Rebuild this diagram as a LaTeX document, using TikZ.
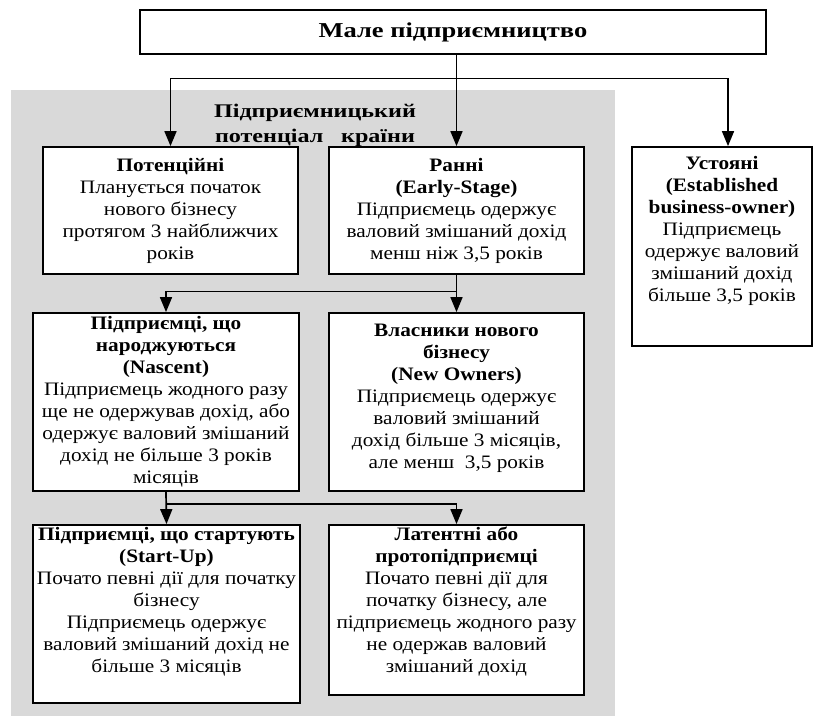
\documentclass[tikz,border=0pt]{standalone}
\usepackage{fontspec}
\setmainfont{Liberation Serif}[FakeStretch=1.12]
\newfontfamily\headfont{Liberation Serif}[FakeStretch=1.25]
\usetikzlibrary{arrows.meta,calc}
\definecolor{panel}{RGB}{217,217,217}
\begin{document}
\begin{tikzpicture}[x=1pt,y=-1pt,
  box/.style={draw=black,line width=1.8pt,fill=white,inner sep=0pt},
  txt/.style={anchor=north,align=center,inner sep=0pt,font=\fontsize{19}{22}\selectfont,execute at begin node={\strut}},
  arr/.style={line width=1.7pt,-{Triangle[width=12pt,length=15pt]}}]
\useasboundingbox (0,0) rectangle (813,718);
\fill[panel] (11,90) rectangle (615,716);
% boxes
\node[box,minimum width=626pt,minimum height=44pt] (top) at (453,32) {};
\node[box,minimum width=255pt,minimum height=127pt] (pot) at (170.5,210.5) {};
\node[box,minimum width=255pt,minimum height=127pt] (ran) at (456.5,210.5) {};
\node[box,minimum width=180pt,minimum height=199pt] (ust) at (722,246.5) {};
\node[box,minimum width=266pt,minimum height=178pt] (nas) at (166,402) {};
\node[box,minimum width=255pt,minimum height=178pt] (own) at (456.5,402) {};
\node[box,minimum width=267pt,minimum height=178pt] (sta) at (166.5,614) {};
\node[box,minimum width=255pt,minimum height=170pt] (lat) at (456.5,610) {};
% texts
\node[inner sep=0pt,font=\headfont\fontsize{21.2}{24}\selectfont\bfseries] (topT) at (top.center) {Мале підприємництво};
\node[anchor=north,align=center,inner sep=0pt,font=\headfont\fontsize{19.3}{25}\selectfont\bfseries] (panT) at (315,103.5) {Підприємницький\\\hbox to 200pt{потенціал\hfill країни}};
\node[txt] (potT) at ($(pot.north)+(0,11.6)$) {\textbf{Потенційні}\\Планується початок\\нового бізнесу\\протягом 3 найближчих\\років};
\node[txt] (ranT) at ($(ran.north)+(0,11.6)$) {\textbf{Ранні}\\\textbf{(Early-Stage)}\\Підприємець одержує\\валовий змішаний дохід\\менш ніж 3,5 років};
\node[txt] (ustT) at ($(ust.north)+(0,10)$) {\textbf{Устояні}\\\textbf{(Established}\\\textbf{business-owner)}\\Підприємець\\одержує валовий\\змішаний дохід\\більше 3,5 років};
\node[txt] (nasT) at ($(nas.north)+(0,3.6)$) {\textbf{Підприємці, що}\\\textbf{народжуються}\\\textbf{(Nascent)}\\Підприємець жодного разу\\ще не одержував дохід, або\\одержує валовий змішаний\\дохід не більше 3 років\\місяців};
\node[txt] (ownT) at ($(own.north)+(0,11.6)$) {\textbf{Власники нового}\\\textbf{бізнесу}\\\textbf{(New Owners)}\\Підприємець одержує\\валовий змішаний\\дохід більше 3 місяців,\\але менш~~3,5 років};
\node[txt] (staT) at ($(sta.north)+(0,2.6)$) {\textbf{Підприємці, що стартують}\\\textbf{(Start-Up)}\\Почато певні дії для початку\\бізнесу\\Підприємець одержує\\валовий змішаний дохід не\\більше 3 місяців};
\node[txt] (latT) at ($(lat.north)+(0,2.6)$) {\textbf{Латентні або}\\\textbf{протопідприємці}\\Почато певні дії для\\початку бізнесу, але\\підприємець жодного разу\\не одержав валовий\\змішаний дохід};
% connectors
\coordinate (j1) at ($(top.south -| ran.north)!0.26!(ran.north)$);
\draw[arr] (top.south -| ran.north) -- (ran.north);
\draw[arr] (j1) -| (pot.north);
\draw[arr] (j1) -| ($(ust.north)+(6,0)$);
\coordinate (j2) at ($(ran.south)!0.45!(own.north)$);
\draw[arr] (ran.south) -- (own.north);
\draw[arr] (j2) -| (nas.north);
\coordinate (j3) at ($(nas.south)!0.38!(sta.north)$);
\draw[arr] (nas.south) -- (sta.north);
\draw[arr] (j3) -| (lat.north);
\end{tikzpicture}
\end{document}
